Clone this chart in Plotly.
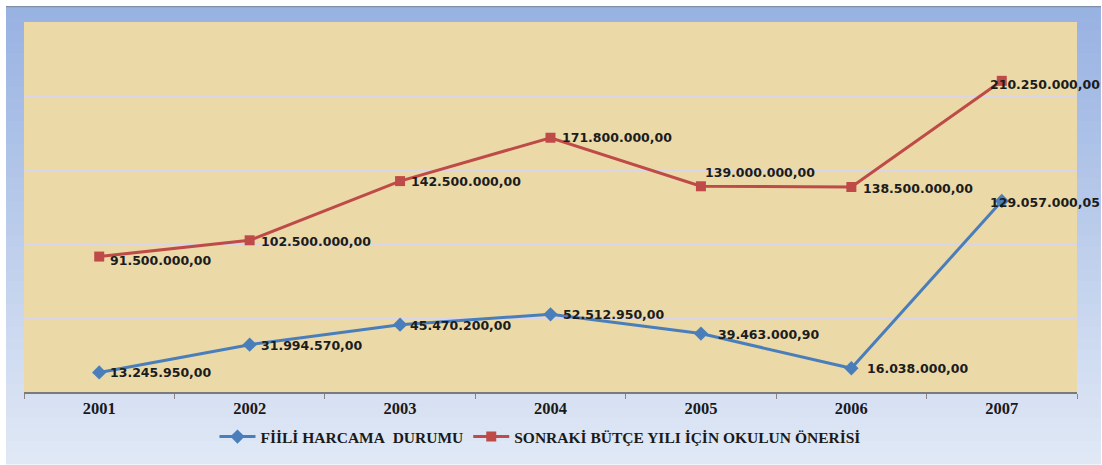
import plotly.graph_objects as go

# ---- data ----
years = ["2001", "2002", "2003", "2004", "2005", "2006", "2007"]
fiili_harcama = [13245950.00, 31994570.00, 45470200.00, 52512950.00, 39463000.90, 16038000.00, 129057000.05]
okul_onerisi = [91500000.00, 102500000.00, 142500000.00, 171800000.00, 139000000.00, 138500000.00, 210250000.00]
series_names = ["FİİLİ HARCAMA\u00a0 DURUMU", "SONRAKİ BÜTÇE YILI İÇİN OKULUN ÖNERİSİ"]
y_grid = [50e6, 100e6, 150e6, 200e6]


def tr_fmt(v):
    s = f"{v:,.2f}"
    return s.replace(",", "X").replace(".", ",").replace("X", ".")


BLUE = "#4A7EBB"
RED = "#BE4B48"

fig = go.Figure()
fig.add_trace(go.Scatter(
    x=years, y=fiili_harcama, name=series_names[0], mode="lines+markers",
    line=dict(color=BLUE, width=3),
    marker=dict(symbol="diamond", size=11, color=BLUE),
    cliponaxis=False,
))
fig.add_trace(go.Scatter(
    x=years, y=okul_onerisi, name=series_names[1], mode="lines+markers",
    line=dict(color=RED, width=3),
    marker=dict(symbol="square", size=10, color=RED),
    cliponaxis=False,
))

# label offsets (pixels) for each point: (xshift, yshift)
blue_off = [(9, 0), (9, -1), (8, -1), (10, 0), (15, -1), (14, 0), (-14, -1)]
red_off = [(9, -4), (9, -1), (9, 0), (9, 0), (2, 14), (10, -1), (-14, -4)]

annotations = []
for vals, offs in ((fiili_harcama, blue_off), (okul_onerisi, red_off)):
    for i, (v, (dx, dy)) in enumerate(zip(vals, offs)):
        annotations.append(dict(
            x=i, y=v, xref="x", yref="y", text="<b>" + tr_fmt(v) + "</b>", showarrow=False,
            xanchor="left", yanchor="middle", xshift=dx, yshift=dy,
            font=dict(family="DejaVu Sans", size=12.5, color="#1c1c1c"),
        ))

# ---- background: blue gradient frame + papyrus-tone plot area ----
L, R, T, B = 24, 25, 22, 72
W, H = 1102, 465
pw, ph = W - L - R, H - T - B


def px2paper_x(px):
    return (px - L) / pw


def px2paper_y(py):
    return (H - B - py) / ph


shapes = []
top_c = (152, 178, 226)
bot_c = (224, 232, 245)
y_top, y_bot = 7, 465
n = 40
for i in range(n):
    t = i / (n - 1)
    c = tuple(round(top_c[k] + (bot_c[k] - top_c[k]) * t) for k in range(3))
    ya = y_top + (y_bot - y_top) * i / n
    yb = y_top + (y_bot - y_top) * (i + 1) / n + 0.8
    shapes.append(dict(
        type="rect", xref="paper", yref="paper", layer="below",
        x0=px2paper_x(6), x1=px2paper_x(1101), y0=px2paper_y(yb), y1=px2paper_y(ya),
        fillcolor=f"rgb{c}", line=dict(width=0),
    ))
shapes.append(dict(
    type="line", xref="paper", yref="paper", layer="below",
    x0=px2paper_x(6), x1=px2paper_x(1101), y0=px2paper_y(6.5), y1=px2paper_y(6.5),
    line=dict(color="#7F8FA8", width=1.2),
))
shapes.append(dict(
    type="rect", xref="paper", yref="paper", layer="below",
    x0=0, x1=1, y0=0, y1=1, fillcolor="#EBD9A8", line=dict(width=0),
))

fig.update_layout(
    width=W, height=H,
    margin=dict(l=L, r=R, t=T, b=B),
    paper_bgcolor="white",
    plot_bgcolor="rgba(0,0,0,0)",
    shapes=shapes,
    annotations=annotations,
    showlegend=True,
    legend=dict(
        orientation="h", x=0.49, xanchor="center", y=px2paper_y(437), yanchor="middle",
        font=dict(family="Liberation Serif", size=15.5, color="#1a1a1a", weight="bold"),
        bgcolor="rgba(0,0,0,0)", itemwidth=36, tracegroupgap=0,
    ),
    xaxis=dict(
        type="category", tickson="boundaries", ticks="outside", ticklen=5,
        tickcolor="#868686", showline=True, linecolor="#7a7a7a", linewidth=1.5,
        showgrid=False, range=[-0.5, 6.5],
        tickfont=dict(family="Liberation Serif", size=16.5, color="#1a1a1a", weight="bold"),
    ),
    yaxis=dict(
        range=[0, 250e6], tickvals=y_grid, showticklabels=False,
        showgrid=True, gridcolor="#D9D5E6", gridwidth=1, zeroline=False, showline=False,
    ),
)

fig.write_html("out.html", post_script="document.body.style.margin='0';",
               config={"displayModeBar": False})
